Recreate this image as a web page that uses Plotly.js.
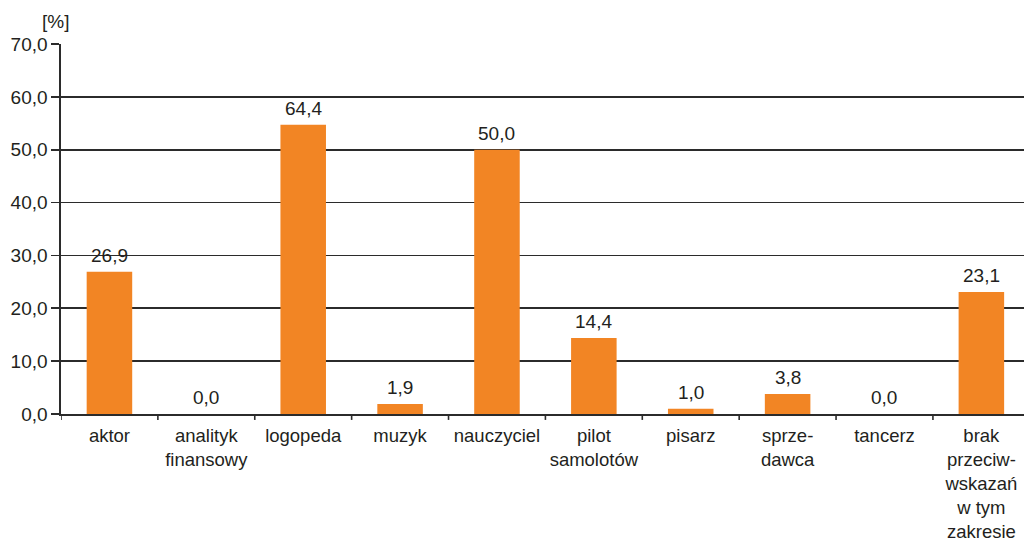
<!DOCTYPE html>
<html>
<head>
<meta charset="utf-8">
<script src="https://cdn.plot.ly/plotly-3.0.1.min.js"></script>
<style>html,body{margin:0;padding:0;background:#fff;overflow:hidden}#chart{width:1024px;height:544px}</style>
</head>
<body>
<div id="chart"></div>
<script>
const categories = ["aktor", "analityk<br>finansowy", "logopeda", "muzyk", "nauczyciel", "pilot<br>samolotów", "pisarz", "sprze-<br>dawca", "tancerz", "brak<br>przeciw-<br>wskazań<br>w tym<br>zakresie"];
const barHeights = [26.9, 0.0, 54.7, 1.9, 50.0, 14.4, 1.0, 3.8, 0.0, 23.1];
const valueLabels = ["26,9", "0,0", "64,4", "1,9", "50,0", "14,4", "1,0", "3,8", "0,0", "23,1"];
const yTickVals = [0, 10, 20, 30, 40, 50, 60, 70];
const yTickText = ["0,0", "10,0", "20,0", "30,0", "40,0", "50,0", "60,0", "70,0"];

const FONT = "'Liberation Sans Narrow', 'Arial Narrow', 'Liberation Sans', sans-serif";
const TXT = '#231f20';

const xs = categories.map((c, i) => i);

const trace = {
  type: 'bar',
  x: xs,
  y: barHeights,
  marker: {color: '#F28524'},
  hoverinfo: 'none'
};

const layout = {
  width: 1024, height: 544,
  margin: {l: 61, r: 0, t: 44, b: 130},
  paper_bgcolor: '#fff', plot_bgcolor: '#fff',
  showlegend: false,
  bargap: 0.53,
  font: {family: FONT, size: 19, color: TXT},
  xaxis: {
    range: [-0.5, 9.44],
    tickmode: 'array',
    tickvals: xs,
    ticktext: categories,
    ticks: '',
    ticklabelstandoff: 4,
    showgrid: false,
    zeroline: false,
    showline: true, linecolor: '#2b2b2b', linewidth: 1.6,
    tickfont: {family: FONT, size: 18.5, color: TXT},
    fixedrange: true
  },
  yaxis: {
    range: [0, 70],
    tickmode: 'array',
    tickvals: yTickVals,
    ticktext: yTickText,
    ticks: 'outside', ticklen: 8, tickcolor: '#2b2b2b', tickwidth: 1.6,
    showgrid: true, gridcolor: '#2b2b2b', gridwidth: 1.6,
    zeroline: false,
    showline: true, linecolor: '#2b2b2b', linewidth: 1.6,
    tickfont: {family: FONT, size: 19, color: TXT},
    fixedrange: true
  },
  shapes: xs.map(i => ({
    type: 'line', xref: 'x', yref: 'paper',
    x0: i - 0.5, x1: i - 0.5, y0: 0, y1: -0.016,
    line: {color: '#2b2b2b', width: 1.6}
  })),
  annotations: [{
    text: '[%]', xref: 'paper', yref: 'paper', x: 0, y: 1,
    xanchor: 'right', yanchor: 'bottom', xshift: 10, yshift: 10,
    showarrow: false, font: {family: FONT, size: 19, color: TXT}
  }].concat(xs.map(i => ({
    text: valueLabels[i], xref: 'x', yref: 'y', x: i, y: barHeights[i],
    xanchor: 'center', yanchor: 'bottom', yshift: 4,
    showarrow: false, font: {family: FONT, size: 19, color: TXT}
  })))
};

Plotly.newPlot('chart', [trace], layout, {staticPlot: true, displayModeBar: false});
</script>
</body>
</html>
